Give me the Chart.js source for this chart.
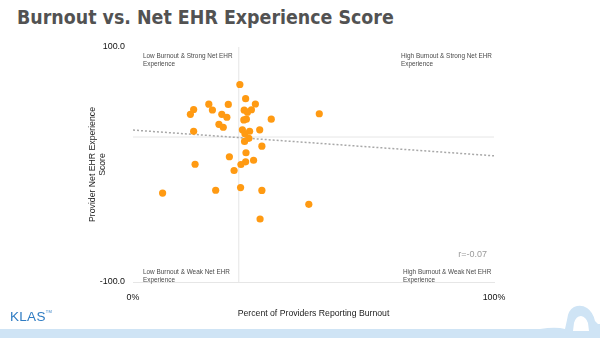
<!DOCTYPE html>
<html>
<head>
<meta charset="utf-8">
<script src="https://cdn.jsdelivr.net/npm/chart.js@4"></script>
<style>
  body { margin: 0; background: #fff; }
  #slide { position: relative; width: 600px; height: 338px; overflow: hidden; }
  #title { position: absolute; left: 17px; top: 8px; font: bold 19.4px "DejaVu Sans Condensed", "DejaVu Sans", sans-serif; line-height: 20px; color: #525252; white-space: nowrap; }
  #wrap { position: absolute; left: 0; top: 0; width: 600px; height: 338px; }
  #klas { position: absolute; left: 10px; top: 309px; font: 13.5px "Liberation Sans", Arial, sans-serif; color: #2f7cc3; letter-spacing: 0.3px; }
  #klas sup { font-size: 4px; vertical-align: 8px; }
  #footer { position: absolute; left: 0; top: 0; }
</style>
</head>
<body>
<div id="slide">
  <div id="title">Burnout vs. Net EHR Experience Score</div>
  <div id="wrap"><canvas id="burnoutChart"></canvas></div>
  <svg id="footer" width="600" height="338">
    <path fill="#cfe4f5" fill-rule="evenodd" d="M0,329 L540,329 Q552,327 560,328 L565,329 L567,320 Q568,310 574,307 Q581,304 587,308 Q593,312 595,321 L598,324 L600,324 L600,338 L0,338 Z M573,331 L574,323 Q576,316 581,316 Q586,317 588,323 L589,331 Z"/>
  </svg>
  <div id="klas">KLAS<sup>TM</sup></div>
</div>
<script>
// percent of providers reporting burnout (x) and net EHR experience score (y)
const burnoutPct = [29.6, 31.2, 21.0, 26.4, 33.9, 16.8, 22.0, 30.8, 32.8, 31.7,
                    15.9, 24.6, 51.6, 26.0, 31.4, 30.7, 38.3, 23.8, 25.0, 16.8,
                    30.3, 32.3, 35.1, 31.0, 32.1, 30.9, 35.7, 31.3, 26.7, 17.2,
                    31.2, 29.9, 33.4, 28.0, 8.2, 22.9, 29.8, 35.7, 48.7, 35.2];
const ehrScore = [68.1, 56.0, 51.3, 51.1, 51.5, 46.8, 46.4, 46.2, 46.6, 44.5,
                  42.7, 42.7, 43.2, 40.2, 38.6, 37.9, 38.6, 34.2, 31.7, 28.3,
                  29.5, 28.3, 29.5, 26.1, 22.3, 19.6, 15.6, 10.0, 6.6, 0.2,
                  2.3, 0.0, 3.6, -5.1, -24.3, -21.9, -19.6, -22.1, -33.9, -46.4];

// fitted trend line end points
const trendX = [0, 100];
const trendY = [29.3, 7.4];

// quadrant dividers (average burnout, average score)
const dividerX = 29.3;
const dividerY = 23.4;

const xTicks = [0, 100];
const yTicks = [-100, 100];

const quadrantText = {
  lowStrong: ['Low Burnout & Strong Net EHR', 'Experience'],
  highStrong: ['High Burnout & Strong Net EHR', 'Experience'],
  lowWeak: ['Low Burnout & Weak Net EHR', 'Experience'],
  highWeak: ['High Burnout & Weak Net EHR', 'Experience']
};
const rLabel = 'r=-0.07';

const points = burnoutPct.map((x, i) => ({ x: x, y: ehrScore[i] }));
const trendPoints = trendX.map((x, i) => ({ x: x, y: trendY[i] }));

// quadrant labels and r value
const labelsPlugin = {
  id: 'quadLabels',
  afterDatasetsDraw(chart) {
    const ctx = chart.ctx;
    const a = chart.chartArea;
    ctx.save();
    ctx.textBaseline = 'middle';
    ctx.fillStyle = '#4a4a4a';
    ctx.font = '6.4px "Liberation Sans", Arial, sans-serif';
    ctx.textAlign = 'left';
    const put = (lines, x, y) => {
      lines.forEach((t, i) => ctx.fillText(t, x, y + i * 8));
    };
    put(quadrantText.lowStrong, a.left + 10, a.top + 9);
    put(quadrantText.highStrong, a.left + 268, a.top + 9);
    put(quadrantText.lowWeak, a.left + 10, a.bottom - 9.5);
    put(quadrantText.highWeak, a.left + 270, a.bottom - 9.5);
    ctx.fillStyle = '#9a9a9a';
    ctx.font = '9px "Liberation Sans", Arial, sans-serif';
    ctx.textAlign = 'right';
    ctx.fillText(rLabel, a.right - 7, a.bottom - 27);
    ctx.restore();
  }
};

const ctx = document.getElementById('burnoutChart').getContext('2d');
const burnoutChart = new Chart(ctx, {
  type: 'scatter',
  data: {
    datasets: [{
      label: 'Organizations',
      data: points,
      backgroundColor: '#ff9a12',
      borderWidth: 0,
      pointRadius: 3.6,
      order: 0
    }, {
      label: 'Trend',
      data: trendPoints,
      showLine: true,
      pointRadius: 0,
      borderColor: '#a8a8a8',
      borderWidth: 1.5,
      borderDash: [2, 2],
      order: 1
    }, {
      label: 'Average burnout',
      data: [{ x: dividerX, y: yTicks[0] }, { x: dividerX, y: yTicks[1] }],
      showLine: true,
      pointRadius: 0,
      borderColor: '#e6e6e6',
      borderWidth: 1,
      order: 2
    }, {
      label: 'Average score',
      data: [{ x: xTicks[0], y: dividerY }, { x: xTicks[1], y: dividerY }],
      showLine: true,
      pointRadius: 0,
      borderColor: '#e6e6e6',
      borderWidth: 1,
      order: 2
    }]
  },
  options: {
    responsive: true,
    maintainAspectRatio: false,
    animation: false,
    layout: { padding: { left: 80, right: 106, top: 47, bottom: 18 } },
    plugins: {
      legend: { display: false },
      tooltip: { enabled: false }
    },
    scales: {
      x: {
        min: 0,
        max: 100,
        afterBuildTicks: s => { s.ticks = xTicks.map(v => ({ value: v })); },
        afterFit: s => { s.height = 38; },
        grid: { display: false, drawTicks: false },
        border: { display: true, color: '#e6e6e6' },
        ticks: {
          padding: 10,
          color: '#111',
          font: { family: '"Liberation Sans", Arial, sans-serif', size: 8.9 },
          callback: v => v + '%'
        },
        title: {
          display: true,
          text: 'Percent of Providers Reporting Burnout',
          color: '#222',
          font: { family: '"Liberation Sans", Arial, sans-serif', size: 8.7, lineHeight: 1.15 },
          padding: { top: 0, bottom: 1 }
        }
      },
      y: {
        min: -100,
        max: 100,
        afterBuildTicks: s => { s.ticks = yTicks.map(v => ({ value: v })); },
        afterFit: s => { s.width = 53; },
        grid: { display: false, drawTicks: false },
        border: { display: false },
        ticks: {
          padding: 8,
          color: '#111',
          font: { family: '"Liberation Sans", Arial, sans-serif', size: 8.9 },
          callback: v => v.toFixed(1)
        },
        title: {
          display: true,
          text: ['Provider Net EHR Experience', 'Score'],
          color: '#222',
          font: { family: '"Liberation Sans", Arial, sans-serif', size: 8.7, lineHeight: 1.15 },
          padding: { top: 8, bottom: 0 }
        }
      }
    }
  },
  plugins: [labelsPlugin]
});
</script>
</body>
</html>
